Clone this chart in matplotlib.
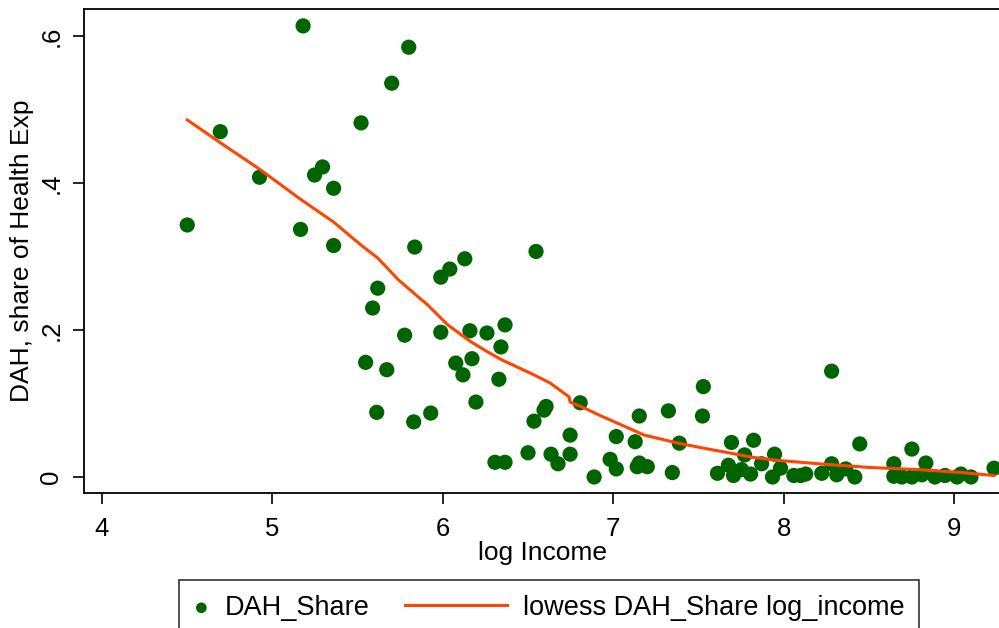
import matplotlib
matplotlib.use("Agg")
import matplotlib.pyplot as plt
import numpy as np
from matplotlib.legend_handler import HandlerLine2D

plt.rcParams['font.family'] = ['Liberation Sans', 'DejaVu Sans']

# scatter points: log income, DAH share of health expenditure
log_income = [4.50, 4.694, 4.924, 5.18, 5.165, 5.247, 5.294, 5.359, 5.359, 5.52,
              5.547, 5.588, 5.618, 5.612, 5.671, 5.70, 5.776, 5.80, 5.835, 5.829,
              5.929, 5.988, 5.988, 6.041, 6.076, 6.118, 6.129, 6.159, 6.171, 6.194,
              6.259, 6.306, 6.365, 6.329, 6.341, 6.365, 6.547, 6.606, 6.594, 6.806,
              6.535, 6.747, 6.50, 6.635, 6.747, 6.676, 6.888,
              7.018, 6.982, 7.018, 7.153, 7.129, 7.153, 7.141, 7.20, 7.324, 7.388,
              7.347, 7.529, 7.524, 7.612, 7.694, 7.676, 7.706, 7.771, 7.753, 7.806,
              7.824, 7.871, 7.947, 7.935, 7.982, 8.06, 8.10, 8.13, 8.224, 8.282,
              8.282, 8.312, 8.365, 8.418, 8.447, 8.647, 8.647, 8.694, 8.753, 8.753,
              8.812, 8.835, 8.888, 8.947, 9.018, 9.041, 9.10, 9.235]
dah_share = [0.343, 0.470, 0.408, 0.614, 0.337, 0.411, 0.422, 0.393, 0.315, 0.482,
             0.156, 0.230, 0.257, 0.088, 0.146, 0.536, 0.193, 0.585, 0.313, 0.075,
             0.087, 0.197, 0.272, 0.283, 0.155, 0.139, 0.297, 0.199, 0.161, 0.102,
             0.196, 0.020, 0.020, 0.133, 0.177, 0.207, 0.307, 0.096, 0.091, 0.101,
             0.076, 0.057, 0.033, 0.031, 0.031, 0.018, 0.000,
             0.055, 0.024, 0.011, 0.083, 0.048, 0.019, 0.014, 0.014, 0.090, 0.046,
             0.006, 0.123, 0.083, 0.005, 0.047, 0.016, 0.002, 0.030, 0.010, 0.004,
             0.050, 0.018, 0.031, 0.000, 0.012, 0.002, 0.002, 0.004, 0.005, 0.144,
             0.018, 0.003, 0.011, 0.000, 0.045, 0.018, 0.001, 0.000, 0.038, 0.000,
             0.003, 0.019, 0.000, 0.002, 0.000, 0.004, 0.000, 0.012]

# lowess curve
lowess_x = [4.50, 4.694, 4.924, 5.165, 5.359, 5.518, 5.618, 5.741, 5.841, 5.912,
            6.029, 6.165, 6.265, 6.341, 6.535, 6.629, 6.741, 6.747, 6.829, 6.929,
            7.047, 7.182, 7.382, 7.535, 7.676, 7.812, 7.947, 8.206, 8.50, 8.794,
            9.047, 9.235]
lowess_y = [0.486, 0.455, 0.419, 0.378, 0.347, 0.316, 0.298, 0.268, 0.248, 0.234,
            0.207, 0.184, 0.170, 0.160, 0.139, 0.128, 0.109, 0.102, 0.094, 0.083,
            0.071, 0.057, 0.046, 0.039, 0.033, 0.027, 0.023, 0.018, 0.013, 0.010,
            0.006, 0.002]


# legend line key is longer than the marker key, so stretch it to the left
class LongLine(HandlerLine2D):
    def __init__(self, extra, **kw):
        HandlerLine2D.__init__(self, **kw)
        self.extra = extra

    def get_xdata(self, legend, xdescent, ydescent, width, height, fontsize):
        xdata = np.array([-xdescent - self.extra * fontsize, -xdescent + width])
        return xdata, np.array([-xdescent + width / 2])


fig = plt.figure(figsize=(9.99, 6.28), dpi=100)
ax = fig.add_axes([84/999, 1 - 493/628, 1 - 84/999 + 0.002, (493 - 9)/628])

sc = ax.scatter(log_income, dah_share, s=120, color='#006400', edgecolors='none',
                zorder=2, label='DAH_Share')
ln, = ax.plot(lowess_x, lowess_y, color='#FF4500', lw=2.2, zorder=3,
              label='lowess DAH_Share log_income')

ax.set_xlim(3.894, 9.276)
ax.set_ylim(-0.0218, 0.637)
ax.set_xticks([4, 5, 6, 7, 8, 9])
ax.set_yticks([0, 0.2, 0.4, 0.6])
ax.set_yticklabels(['0', '.2', '.4', '.6'], rotation=90, va='center')
ax.tick_params(labelsize=18.5, length=8, width=1.2)
ax.tick_params(axis='x', pad=9)
ax.tick_params(axis='y', pad=7)
for s in ax.spines.values():
    s.set_linewidth(1.3)

ax.set_xlabel('log Income', fontsize=19, labelpad=0)
ax.set_ylabel('DAH, share of Health Exp', fontsize=19, labelpad=4)

leg = fig.legend(handles=[sc, ln], loc='upper left',
                 bbox_to_anchor=(179/999, 1 - 580/628), ncol=2, fontsize=19.5,
                 frameon=True, fancybox=False, edgecolor='black',
                 handlelength=0.55, handletextpad=0.6, columnspacing=4.5,
                 borderpad=0.55, borderaxespad=0, markerscale=0.7,
                 handler_map={ln: LongLine(3.2)})
leg.get_frame().set_linewidth(1.2)

plt.savefig('out.png', dpi=100)
